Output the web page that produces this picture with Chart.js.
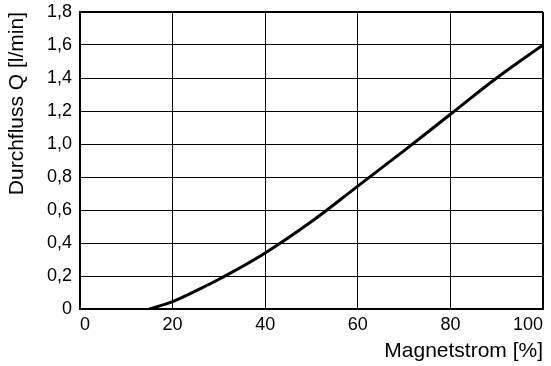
<!DOCTYPE html>
<html lang="de">
<head>
    <meta charset="UTF-8">
    <title>Durchfluss</title>
    <script src="https://cdn.jsdelivr.net/npm/chart.js"></script>
    <style>
        html, body { margin: 0; padding: 0; background: #fff; }
        .wrap { width: 551px; height: 366px; position: relative; }
    </style>
</head>
<body>
    <div class="wrap">
        <canvas id="chart"></canvas>
    </div>

    <script>
        // Kennlinie
        const magnetstrom = [15, 20, 25, 30, 40, 50, 60, 70, 80, 90, 100];
        const durchfluss = [0, 0.045, 0.11, 0.18, 0.34, 0.53, 0.745, 0.96, 1.18, 1.40, 1.60];

        // Achsen
        const xTicks = [0, 20, 40, 60, 80, 100];
        const yTicks = [0, 0.2, 0.4, 0.6, 0.8, 1.0, 1.2, 1.4, 1.6, 1.8];
        const yTickLabels = ['0', '0,2', '0,4', '0,6', '0,8', '1,0', '1,2', '1,4', '1,6', '1,8'];

        const font = 'Liberation Sans, Arial, Helvetica, sans-serif';

        const ctx = document.getElementById('chart').getContext('2d');
        new Chart(ctx, {
            type: 'line',
            data: {
                datasets: [{
                    data: magnetstrom.map((x, i) => ({ x: x, y: durchfluss[i] })),
                    borderColor: '#000',
                    borderWidth: 3,
                    pointRadius: 0,
                    tension: 0.4,
                    fill: false
                }]
            },
            options: {
                responsive: true,
                maintainAspectRatio: false,
                animation: false,
                layout: { padding: { top: 12, right: 8, left: 0, bottom: 0 } },
                plugins: { legend: { display: false }, tooltip: { enabled: false } },
                scales: {
                    x: {
                        type: 'linear',
                        min: 0,
                        max: 100,
                        afterBuildTicks: s => { s.ticks = xTicks.map(v => ({ value: v })); },
                        afterFit: s => { s.height = 57; s.paddingLeft = 0; s.paddingRight = 0; },
                        grid: {
                            color: '#000',
                            lineWidth: c => (c.index === xTicks.length - 1 ? 2 : 1),
                            drawTicks: false
                        },
                        border: { color: '#000', width: 2 },
                        ticks: {
                            color: '#000',
                            font: { family: font, size: 18 },
                            padding: 5,
                            align: 'inner',
                            maxRotation: 0
                        },
                        title: {
                            display: true,
                            text: 'Magnetstrom [%]',
                            align: 'end',
                            color: '#000',
                            font: { family: font, size: 21 },
                            padding: { top: 0, bottom: 2 }
                        }
                    },
                    y: {
                        type: 'linear',
                        min: 0,
                        max: 1.8,
                        afterBuildTicks: s => { s.ticks = yTicks.map(v => ({ value: v })); },
                        afterFit: s => { s.width = 80; s.paddingTop = 0; s.paddingBottom = 0; },
                        grid: {
                            color: '#000',
                            lineWidth: c => (c.index === yTicks.length - 1 ? 2 : 1),
                            drawTicks: false
                        },
                        border: { color: '#000', width: 2 },
                        ticks: {
                            color: '#000',
                            font: { family: font, size: 18 },
                            padding: 8,
                            callback: (v, i) => yTickLabels[i]
                        },
                        title: {
                            display: true,
                            text: 'Durchfluss Q [l/min]',
                            align: 'end',
                            color: '#000',
                            font: { family: font, size: 21 },
                            padding: { top: 5, bottom: 0 }
                        }
                    }
                }
            }
        });
    </script>
</body>
</html>
